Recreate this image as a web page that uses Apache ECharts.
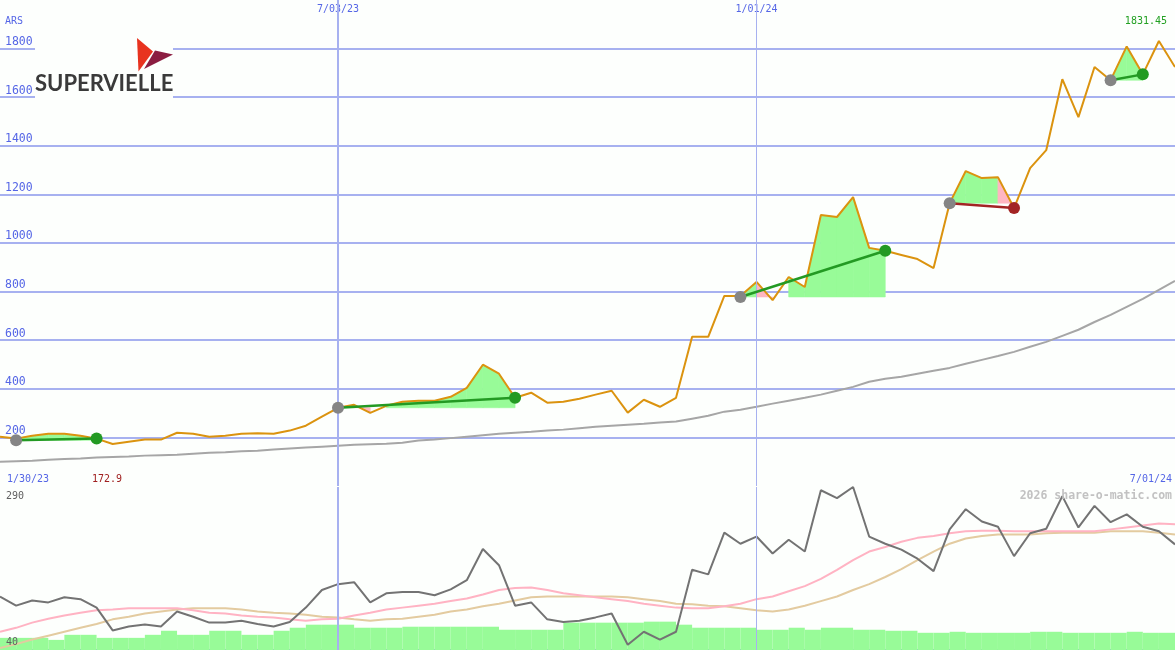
<!DOCTYPE html>
<html><head><meta charset="utf-8">
<script src="https://cdn.jsdelivr.net/npm/echarts@6/dist/echarts.min.js"></script>
<style>html,body{margin:0;padding:0;background:#fdfffd}#c{width:1175px;height:650px}</style>
</head><body><div id="c"></div><script>
// ---- data ----
const dates = ['2/06/23','2/13/23','2/20/23','2/27/23','3/06/23','3/13/23','3/20/23','3/27/23','4/03/23','4/10/23','4/17/23','4/24/23','5/01/23','5/08/23','5/15/23','5/22/23','5/29/23','6/05/23','6/12/23','6/19/23','6/26/23','7/03/23','7/10/23','7/17/23','7/24/23','7/31/23','8/07/23','8/14/23','8/21/23','8/28/23','9/04/23','9/11/23','9/18/23','9/25/23','10/02/23','10/09/23','10/16/23','10/23/23','10/30/23','11/06/23','11/13/23','11/20/23','11/27/23','12/04/23','12/11/23','12/18/23','12/25/23','1/01/24','1/08/24','1/15/24','1/22/24','1/29/24','2/05/24','2/12/24','2/19/24','2/26/24','3/04/24','3/11/24','3/18/24','3/25/24','4/01/24','4/08/24','4/15/24','4/22/24','4/29/24','5/06/24','5/13/24','5/20/24','5/27/24','6/03/24','6/10/24','6/17/24','6/24/24','7/01/24'];
const price = [203,195,207,215,215,207,195,172.9,182,191,191,219,215,203,207,215,217,215,228,248,285,322,334,301,330,347,351,351,367,404,499,462,363,384,343,347,359,376,392,302,355,326,363,614,614,782,782,840,765,860,819,1115,1107,1189,980,968,951,934,897,1164,1296,1267,1271,1144,1308,1382,1674,1518,1724,1670,1809,1694,1831.45,1724];
const priceMA = [100,102,104,108,111,113,117,119,121,125,127,129,133,137,139,143,145,150,154,158,162,166,170,172,174,178,187,191,197,203,209,215,219,223,228,232,238,244,248,252,256,261,265,277,289,306,314,326,339,351,363,376,392,408,429,441,450,462,474,486,503,519,535,552,573,593,618,643,675,704,737,770,807,844];
const osc = [122,108,116,113,121,118,105,70,76,79,76,99,91,82,82,85,80,76,83,105,132,141,144,113,127,129,129,124,133,147,195,170,108,113,87,83,85,90,96,48,68,56,68,163,156,220,203,214,188,209,191,285,273,290,214,203,194,180,161,225,256,237,229,184,219,226,276,228,261,236,248,229,222,202];
const oscFast = [68,74,82,88,93,97,101,102,104,104,104,104,101,97,96,93,91,90,87,85,87,88,93,97,102,105,108,111,115,119,125,132,135,136,132,127,124,121,118,115,111,108,105,104,104,107,111,118,122,130,138,149,163,178,191,198,206,212,215,219,222,223,223,222,222,222,222,222,222,225,228,231,234,233];
const oscSlow = [43,49,56,62,68,74,80,87,91,96,99,102,104,104,104,102,99,97,96,94,91,90,87,85,87,88,91,94,99,102,107,111,116,121,122,122,122,122,122,121,118,115,111,110,108,107,104,101,99,102,108,115,122,132,141,152,164,178,191,203,211,215,217,217,217,219,220,220,220,222,222,222,220,217];
const volume = [12,12,12,10,15,15,12,12,12,15,19,15,15,19,19,15,15,19,22,25,25,25,22,22,22,23,23,23,23,23,23,20,20,20,20,27,27,27,27,27,28,28,25,22,22,22,22,20,20,22,20,22,22,20,20,19,19,17,17,18,17,17,17,17,18,18,17,17,17,17,18,17,17];
const markerDates = ['7/03/23','1/01/24'];
const periodStart = '1/30/23';
const periodEnd = '7/01/24';
const currency = 'ARS';
const oscRange = [40, 290];
const tradeEntry = [1, 21, 46, 59, 69];
const tradeExit = [6, 32, 55, 63, 71];
const tradeEntryPrice = [188, 322, 778, 1164, 1670];
const tradeExitPrice = [195, 363, 968, 1144, 1694];
const tradeFill = ['ggggg', 'gpngggggggg', 'gpngggggg', 'gggp', 'gg'];
const watermark = '2026 share-o-matic.com';
const logoText = 'SUPERVIELLE';

// ---- build ----
const mono = 'DejaVu Sans Mono';
const blue = '#5566e6';
const gridBlue = '#a7b1f0';
const markerIdx = markerDates.map(d => dates.indexOf(d));

const fillData = [];
tradeEntry.forEach((e, k) => {
  for (let s = 0; s < tradeExit[k] - e; s++) {
    const t = tradeFill[k][s];
    if (t === 'n') continue;
    const i = e + s;
    fillData.push([i, price[i], price[i + 1], tradeEntryPrice[k], t === 'g' ? 0 : 1]);
  }
});

const tradeSeries = tradeEntry.map((e, k) => {
  const win = tradeExitPrice[k] >= tradeEntryPrice[k];
  const col = win ? '#239a23' : '#a32424';
  return {
    type: 'line', xAxisIndex: 0, yAxisIndex: 0, z: 5, silent: true,
    symbol: 'circle', symbolSize: 12, showSymbol: true, showAllSymbol: true,
    lineStyle: { color: col, width: 2.5 },
    data: [
      { value: [e, tradeEntryPrice[k]], itemStyle: { color: '#858585' } },
      { value: [tradeExit[k], tradeExitPrice[k]], itemStyle: { color: col } }
    ]
  };
});

const vLines = (idxs) => idxs.map((i, n) => ({ xAxis: dates[i], lineStyle: { width: n === 0 ? 2 : 1, color: gridBlue, type: 'solid' } }));

const maxP = Math.max(...price), minP = Math.min(...price);

const chart = echarts.init(document.getElementById('c'), null, { renderer: 'canvas' });
chart.setOption({
  animation: false,
  backgroundColor: '#fdfffd',
  grid: [
    { left: 0, right: 0, top: 0, bottom: 164 },
    { left: 0, right: 0, top: 487, bottom: 0 }
  ],
  xAxis: [
    { gridIndex: 0, type: 'category', data: dates, boundaryGap: false, position: 'top',
      axisLine: { show: false }, axisTick: { show: false }, splitLine: { show: false },
      axisLabel: { inside: true, margin: 4, color: blue, fontFamily: mono, fontSize: 10,
        interval: (i) => markerIdx.includes(i) } },
    { gridIndex: 1, type: 'category', data: dates, boundaryGap: false, position: 'top',
      axisLine: { show: true, lineStyle: { color: '#7b87ec', width: 3 } },
      axisTick: { show: false }, axisLabel: { show: false }, splitLine: { show: false } },
    { gridIndex: 1, type: 'category', data: dates.slice(1), boundaryGap: true, show: false }
  ],
  yAxis: [
    { gridIndex: 0, type: 'value', min: 0, max: 2000, interval: 200,
      axisLine: { show: false }, axisTick: { show: false },
      splitLine: { show: true, showMinLine: false, showMaxLine: false, lineStyle: { color: gridBlue, width: 2 } },
      axisLabel: { inside: true, margin: 5, showMinLabel: false, showMaxLabel: false,
        formatter: (v) => String(v),
        verticalAlign: 'bottom', color: blue, fontFamily: mono, fontSize: 11.5, lineHeight: 13 } },
    { gridIndex: 1, type: 'value', min: oscRange[0], max: oscRange[1], show: false, splitLine: { show: false } },
    { gridIndex: 1, type: 'value', min: 0, max: 161, show: false, splitLine: { show: false } }
  ],
  series: [
    { type: 'line', xAxisIndex: 0, yAxisIndex: 0, z: 0, silent: true, symbol: 'none',
      data: price, lineStyle: { opacity: 0 },
      markLine: { silent: true, symbol: ['none', 'none'], label: { show: false }, data: vLines(markerIdx) } },
    { type: 'custom', xAxisIndex: 0, yAxisIndex: 0, z: 1, silent: true,
      encode: { x: 0, y: [1, 2, 3] }, data: fillData,
      renderItem: (params, api) => {
        const i = api.value(0);
        const p0 = api.coord([i, api.value(1)]);
        const p1 = api.coord([i + 1, api.value(2)]);
        const b1 = api.coord([i + 1, api.value(3)]);
        const b0 = api.coord([i, api.value(3)]);
        const c = api.value(4) ? '#ffb6c1' : '#98fb98';
        return { type: 'polygon', shape: { points: [p0, p1, b1, b0] }, style: { fill: c, stroke: c, lineWidth: 0.6 } };
      } },
    { type: 'line', xAxisIndex: 0, yAxisIndex: 0, z: 2, silent: true, symbol: 'none',
      data: priceMA, lineStyle: { color: '#a6a6a6', width: 2 } },
    { type: 'line', xAxisIndex: 0, yAxisIndex: 0, z: 3, silent: true, symbol: 'none',
      data: price, lineStyle: { color: '#db930f', width: 2 } },
    ...tradeSeries,
    { type: 'line', xAxisIndex: 1, yAxisIndex: 1, z: 0, silent: true, symbol: 'none',
      data: osc, lineStyle: { opacity: 0 },
      markLine: { silent: true, symbol: ['none', 'none'], label: { show: false }, data: vLines(markerIdx) } },
    { type: 'bar', xAxisIndex: 2, yAxisIndex: 2, z: 1, silent: true, barCategoryGap: '0%',
      data: volume, itemStyle: { color: '#98fb98' } },
    { type: 'line', xAxisIndex: 1, yAxisIndex: 1, z: 2, silent: true, symbol: 'none',
      data: oscSlow, lineStyle: { color: '#e3cba0', width: 2 } },
    { type: 'line', xAxisIndex: 1, yAxisIndex: 1, z: 3, silent: true, symbol: 'none',
      data: oscFast, lineStyle: { color: '#ffb3c3', width: 2 } },
    { type: 'line', xAxisIndex: 1, yAxisIndex: 1, z: 4, silent: true, symbol: 'none',
      data: osc, lineStyle: { color: '#737373', width: 2 } }
  ],
  graphic: [
    { type: 'rect', z: 100, shape: { x: 35, y: 30, width: 138, height: 70 }, style: { fill: '#fdfffd' } },
    { type: 'polygon', z: 101, shape: { points: [[137, 38], [153, 51.5], [138.5, 71.5]] }, style: { fill: '#e8331f' } },
    { type: 'polygon', z: 101, shape: { points: [[155, 50.5], [173, 54.5], [144, 69]] }, style: { fill: '#8b1d41' } },
    { type: 'text', z: 101, x: 35, y: 84, style: { text: logoText, font: 'bold 22px Lato', fill: '#3a3a3a', textVerticalAlign: 'middle' } },
    { type: 'text', z: 101, x: 5, y: 21.5, style: { text: currency, font: '10px "DejaVu Sans Mono"', fill: blue, textVerticalAlign: 'middle' } },
    { type: 'text', z: 101, x: 1167, y: 21, style: { text: maxP.toFixed(2), font: '10px "DejaVu Sans Mono"', fill: '#22a022', textAlign: 'right', textVerticalAlign: 'middle' } },
    { type: 'text', z: 101, x: 7, y: 479, style: { text: periodStart, font: '10px "DejaVu Sans Mono"', fill: blue, textVerticalAlign: 'middle' } },
    { type: 'text', z: 101, x: 92, y: 479, style: { text: minP.toFixed(1), font: '10px "DejaVu Sans Mono"', fill: '#a02020', textVerticalAlign: 'middle' } },
    { type: 'text', z: 101, x: 1172, y: 479, style: { text: periodEnd, font: '10px "DejaVu Sans Mono"', fill: blue, textAlign: 'right', textVerticalAlign: 'middle' } },
    { type: 'text', z: 101, x: 6, y: 496.5, style: { text: String(oscRange[1]), font: '10px "DejaVu Sans Mono"', fill: '#606060', textVerticalAlign: 'middle' } },
    { type: 'text', z: 101, x: 6, y: 642, style: { text: String(oscRange[0]), font: '10px "DejaVu Sans Mono"', fill: '#606060', textVerticalAlign: 'middle' } },
    { type: 'text', z: 101, x: 1172, y: 496, style: { text: watermark, font: 'bold 11.5px "DejaVu Sans Mono"', fill: '#c2c2c2', textAlign: 'right', textVerticalAlign: 'middle' } }
  ]
});
</script></body></html>
